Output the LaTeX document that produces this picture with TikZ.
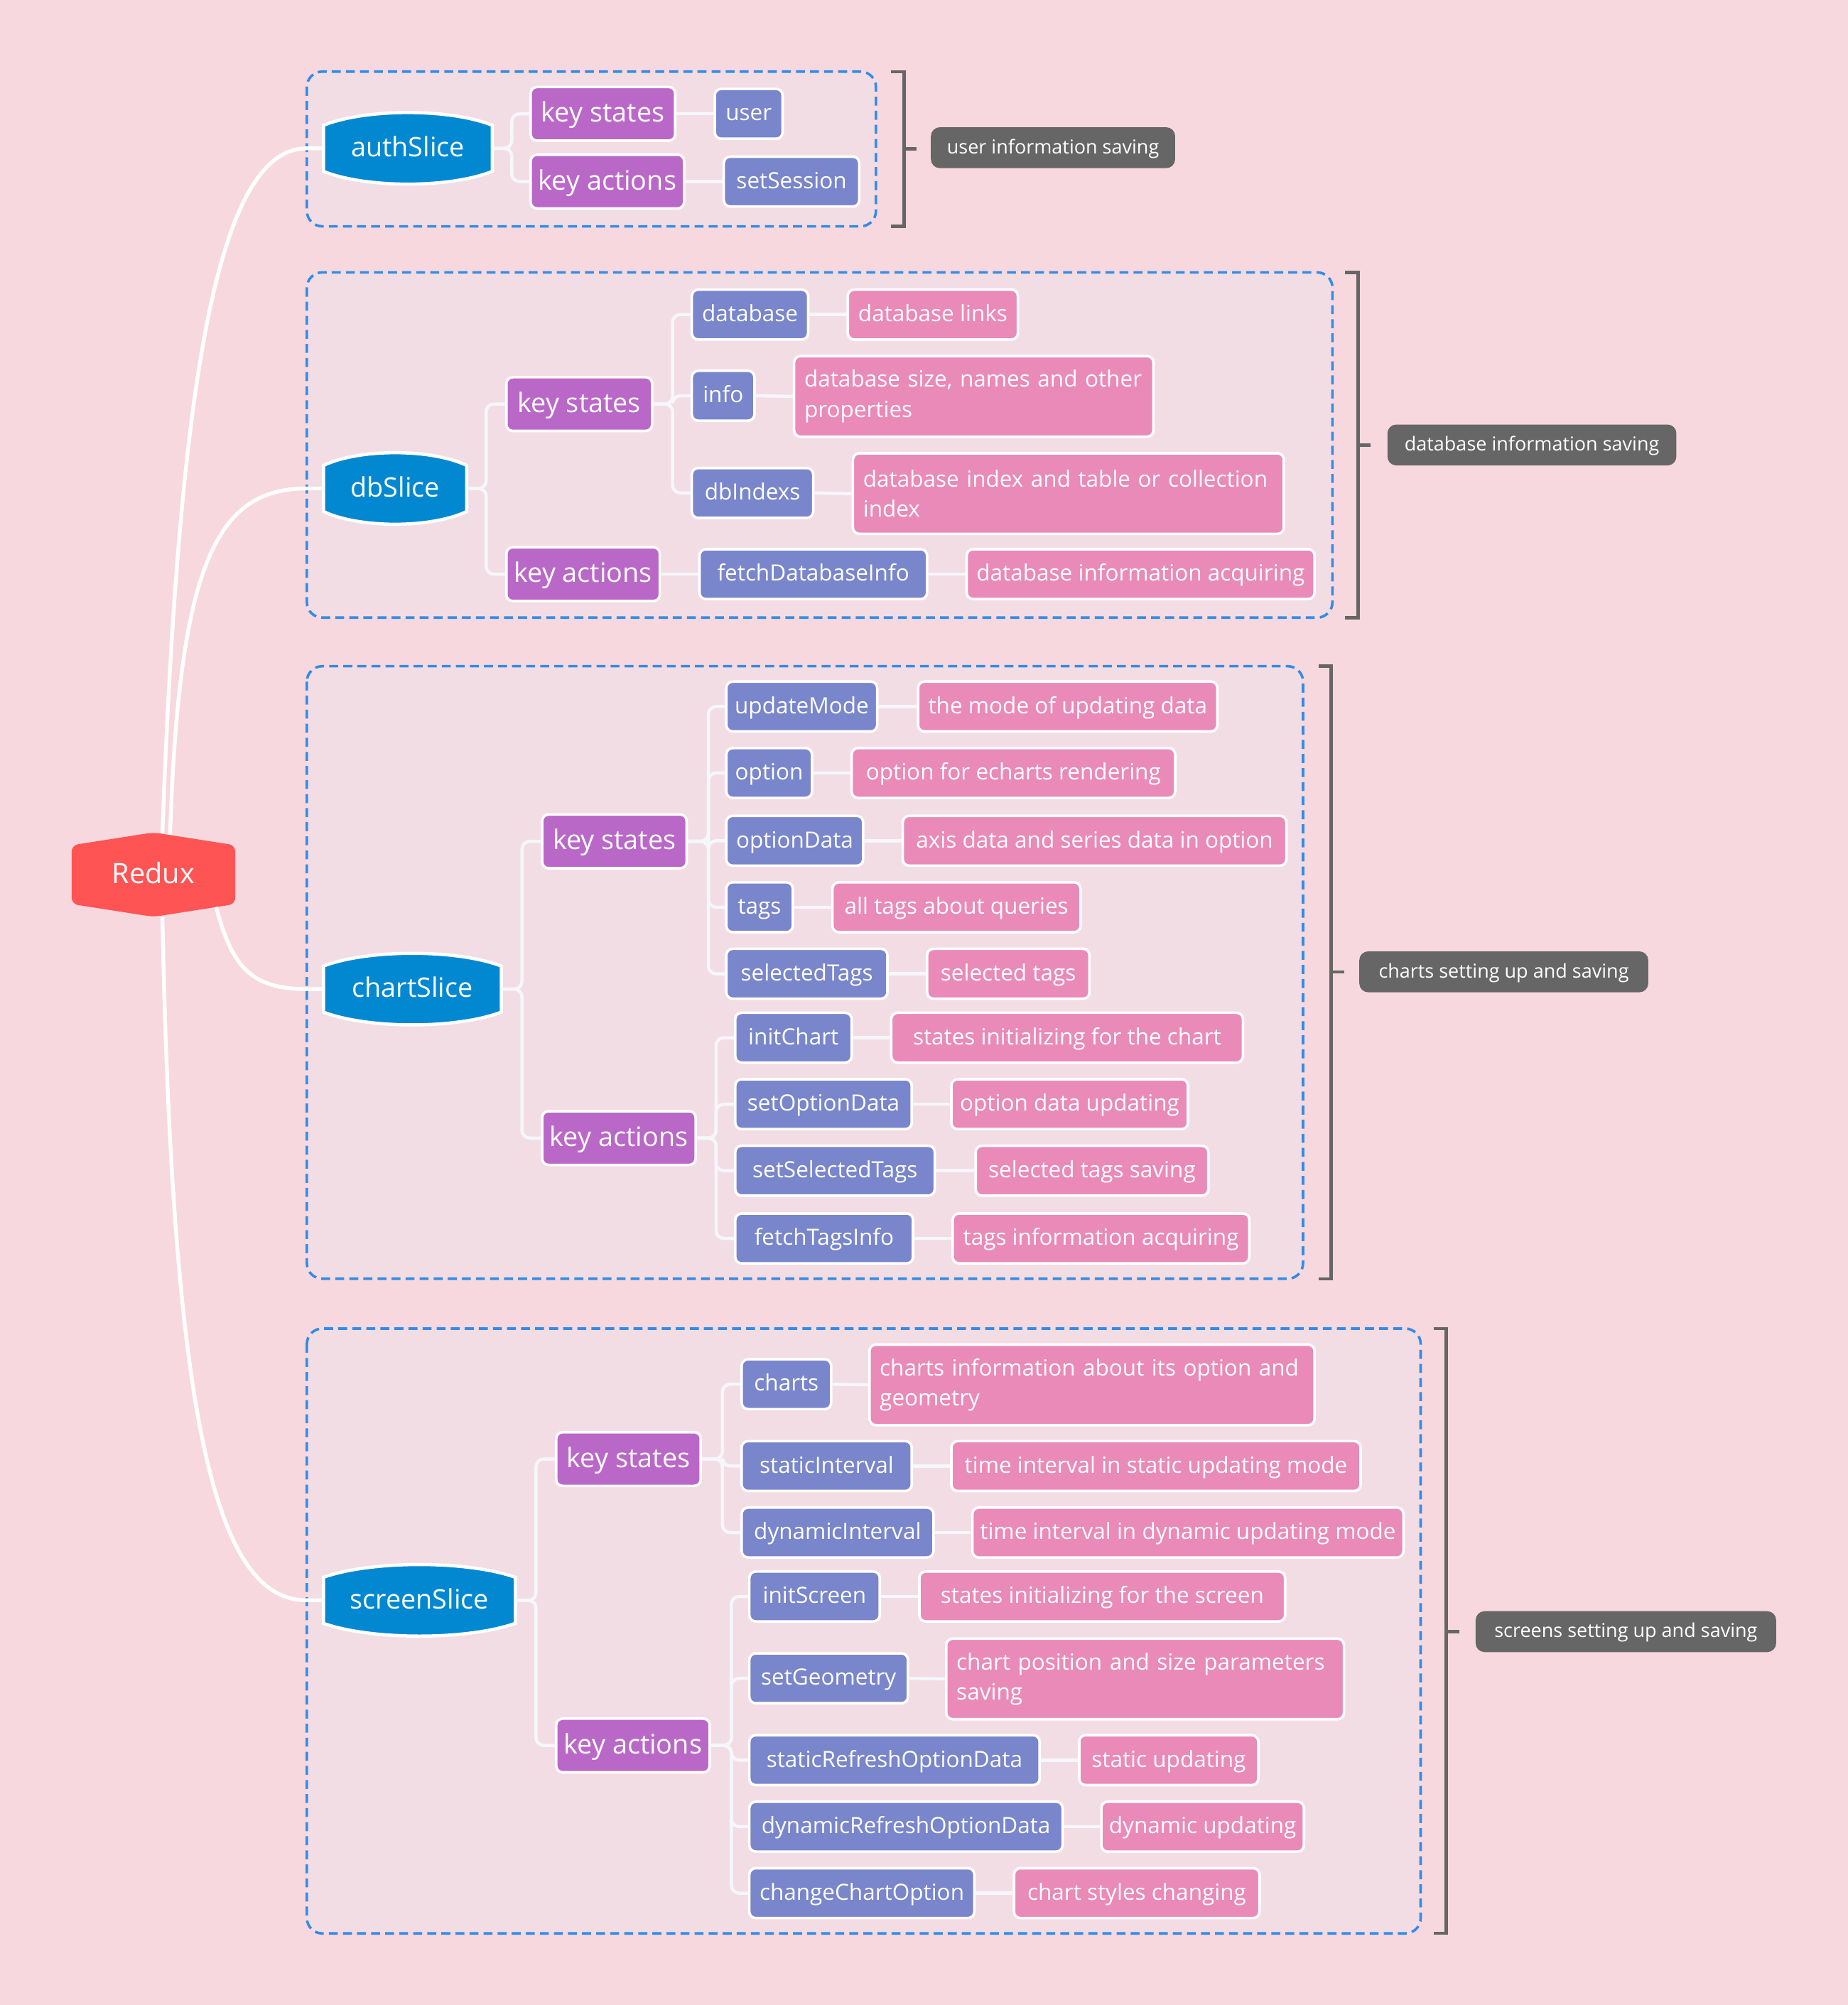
\documentclass[tikz,border=0pt]{standalone}
\usepackage{fontspec}
\setmainfont{Open Sans}
\usetikzlibrary{calc}
\definecolor{bgc}{RGB}{248,216,223}
\definecolor{groupc}{RGB}{243,221,228}
\definecolor{dashc}{RGB}{52,140,228}
\definecolor{slicec}{RGB}{2,136,209}
\definecolor{keyc}{RGB}{186,104,200}
\definecolor{leafc}{RGB}{121,134,203}
\definecolor{pinkc}{RGB}{233,138,184}
\definecolor{reduxc}{RGB}{255,84,84}
\definecolor{grayc}{RGB}{102,102,102}
\definecolor{connc}{RGB}{245,247,250}
\newcommand\slicebg[3]{%
  \path[fill=slicec, draw=white, line width=2.5pt]
    ({#1-#3/2},{#2-18}) .. controls ({#1-#3/4},{#2-31.3}) and ({#1+#3/4},{#2-31.3}) .. ({#1+#3/2},{#2-18})
    -- ({#1+#3/2},{#2+18}) .. controls ({#1+#3/4},{#2+31.3}) and ({#1-#3/4},{#2+31.3}) .. ({#1-#3/2},{#2+18}) -- cycle;}
\tikzset{
  base/.style={draw=white, line width=2pt, rounded corners=5pt, text=white, inner xsep=6pt, inner ysep=0pt, align=center},
  bigline/.style={text height=16.5pt, text depth=3.5pt},
  smallline/.style={text height=13.8pt, text depth=3pt},
  keybox/.style={base, bigline, fill=keyc, minimum height=42pt, font=\fontsize{21}{24}\selectfont},
  leafbox/.style={base, smallline, fill=leafc, minimum height=39pt, font=\fontsize{17.5}{21}\selectfont},
  pinkbase/.style={base, fill=pinkc, minimum height=39pt, font=\fontsize{17.5}{23.5}\selectfont},
  pinkbox/.style={pinkbase, smallline},
  pinktwo/.style={pinkbase, minimum height=63pt, align=left, inner xsep=8pt},
  slicenode/.style={inner sep=0pt, text=white, minimum height=55pt, bigline, font=\fontsize{21}{24}\selectfont},
  labelbox/.style={fill=grayc, rounded corners=7pt, text=white, minimum height=32pt, inner sep=0pt, text height=11.8pt, text depth=2.6pt, font=\fontsize{15}{18}\selectfont},
  groupbox/.style={fill=groupc, draw=dashc, line width=2pt, dash pattern=on 7pt off 4pt, rounded corners=12pt},
  brk/.style={draw=grayc, line width=2.5pt},
  conn/.style={draw=connc, line width=2.5pt, rounded corners=6pt},
  trunk/.style={draw=white, line width=3pt},
}
\begin{document}
\begin{tikzpicture}[x=1pt,y=-1pt]
\fill[bgc] (0,0) rectangle (1445,1568);
\useasboundingbox (0,0) rectangle (1445,1568);

% group boundaries
\path[groupbox] (240,56) rectangle (685,177);
\path[groupbox] (240,213) rectangle (1042,483);
\path[groupbox] (240,521) rectangle (1019,1000);
\path[groupbox] (240,1039) rectangle (1111,1512);

% summary brackets
\draw[brk] (697,56) -- (707,56) -- (707,177) -- (697,177);
\draw[brk] (707,116.5) -- (717,116.5);
\draw[brk] (1052,213) -- (1062,213) -- (1062,483) -- (1052,483);
\draw[brk] (1062,348) -- (1072,348);
\draw[brk] (1031,521) -- (1041,521) -- (1041,1000) -- (1031,1000);
\draw[brk] (1041,760) -- (1051,760);
\draw[brk] (1121,1039) -- (1131,1039) -- (1131,1512) -- (1121,1512);
\draw[brk] (1131,1276) -- (1141,1276);

\node[labelbox, minimum width=191pt] (lab1) at (823.5,115.5) {user information saving};
\node[labelbox, minimum width=226pt] (lab2) at (1198,348) {database information saving};
\node[labelbox, minimum width=226pt] (lab3) at (1176,760) {charts setting up and saving};
\node[labelbox, minimum width=235pt] (lab4) at (1271.5,1276) {screens setting up and saving};

% root
\path[fill=reduxc, rounded corners=5pt] (120,651) -- (184,661) -- (184,707) -- (120,717) -- (56,707) -- (56,661) -- cycle;
\node[slicenode, minimum width=128pt, minimum height=66pt, text height=17pt, text depth=3pt, font=\fontsize{22}{26}\selectfont] (redux) at (120,684) {Redux};

% slices
\slicebg{319}{116}{132}
\node[slicenode, minimum width=132pt] (auth) at (319,116) {authSlice};
\slicebg{309}{382}{112}
\node[slicenode, minimum width=112pt] (db) at (309,382) {dbSlice};
\slicebg{322.5}{773.5}{139}
\node[slicenode, minimum width=139pt] (chart) at (322.5,773.5) {chartSlice};
\slicebg{328}{1251.5}{150}
\node[slicenode, minimum width=150pt] (screen) at (328,1251.5) {screenSlice};

% ---- auth group
\node[keybox, minimum width=113pt] (ks1) at (471.5,89) {key states};
\node[keybox, minimum width=120pt] (ka1) at (475,142) {key actions};
\node[leafbox, minimum width=53pt] (user) at (585.5,89) {user};
\node[leafbox, minimum width=106pt] (setsession) at (619,142) {setSession};

% ---- db group
\node[keybox, minimum width=114pt] (ks2) at (453,316) {key states};
\node[keybox, minimum width=120pt] (ka2) at (456,449) {key actions};
\node[leafbox, minimum width=91pt] (database) at (586.5,246) {database};
\node[leafbox, minimum width=49pt] (info) at (565.5,309.5) {info};
\node[leafbox, minimum width=95pt] (dbindexs) at (588.5,385.5) {dbIndexs};
\node[leafbox, minimum width=178pt] (fetchdb) at (636,449) {fetchDatabaseInfo};
\node[pinkbox, minimum width=133pt] (p-dblinks) at (729.5,246) {database links};
\node[pinktwo, text width=265pt] (p-dbsize) at (761.5,310) {database size, names and other\\properties};
\node[pinktwo, text width=321pt] (p-dbindex) at (835.5,386) {database index and table or collection\\index};
\node[pinkbox, minimum width=272pt] (p-dbinfo) at (892,449) {database information acquiring};

% ---- chart group
\node[keybox, minimum width=113pt] (ks3) at (480.5,658) {key states};
\node[keybox, minimum width=120pt] (ka3) at (484,890) {key actions};
\node[leafbox, minimum width=118pt] (updatemode) at (627,552.5) {updateMode};
\node[leafbox, minimum width=67pt] (option) at (601.5,604.5) {option};
\node[leafbox, minimum width=107pt] (optiondata) at (621.5,657.5) {optionData};
\node[leafbox, minimum width=52pt] (tags) at (594,709.5) {tags};
\node[leafbox, minimum width=126pt] (selectedtags) at (631,761.5) {selectedTags};
\node[leafbox, minimum width=91pt] (initchart) at (620.5,811.5) {initChart};
\node[leafbox, minimum width=138pt] (setoptiondata) at (644,863.5) {setOptionData};
\node[leafbox, minimum width=156pt] (setselectedtags) at (653,915.5) {setSelectedTags};
\node[leafbox, minimum width=139pt] (fetchtags) at (644.5,968.5) {fetchTagsInfo};
\node[pinkbox, minimum width=234pt] (p-updatemode) at (835,552.5) {the mode of updating data};
\node[pinkbox, minimum width=253pt] (p-option) at (792.5,604.5) {option for echarts rendering};
\node[pinkbox, minimum width=300pt] (p-optiondata) at (856,657.5) {axis data and series data in option};
\node[pinkbox, minimum width=194pt] (p-tags) at (748,709.5) {all tags about queries};
\node[pinkbox, minimum width=127pt] (p-selectedtags) at (788.5,761.5) {selected tags};
\node[pinkbox, minimum width=275pt] (p-initchart) at (834.5,811.5) {states initializing for the chart};
\node[pinkbox, minimum width=185pt] (p-setoptiondata) at (836.5,863.5) {option data updating};
\node[pinkbox, minimum width=182pt] (p-setselectedtags) at (854,915.5) {selected tags saving};
\node[pinkbox, minimum width=232pt] (p-fetchtags) at (861,968.5) {tags information acquiring};

% ---- screen group
\node[keybox, minimum width=113pt] (ks4) at (491.5,1141) {key states};
\node[keybox, minimum width=120pt] (ka4) at (495,1365) {key actions};
\node[leafbox, minimum width=70pt] (charts) at (615,1082.5) {charts};
\node[leafbox, minimum width=133pt] (staticinterval) at (646.5,1146.5) {staticInterval};
\node[leafbox, minimum width=150pt] (dynamicinterval) at (655,1198.5) {dynamicInterval};
\node[leafbox, minimum width=102pt] (initscreen) at (637,1248.5) {initScreen};
\node[leafbox, minimum width=124pt] (setgeometry) at (648,1312.5) {setGeometry};
\node[leafbox, minimum width=227pt] (staticrefresh) at (699.5,1376.5) {staticRefreshOptionData};
\node[leafbox, minimum width=245pt] (dynamicrefresh) at (708.5,1428.5) {dynamicRefreshOptionData};
\node[leafbox, minimum width=176pt] (changechart) at (674,1480.5) {changeChartOption};
\node[pinktwo, text width=332pt] (p-charts) at (854,1083) {charts information about its option and\\geometry};
\node[pinkbox, minimum width=320pt] (p-staticinterval) at (904,1146.5) {time interval in static updating mode};
\node[pinkbox, minimum width=336pt] (p-dynamicinterval) at (929,1198.5) {time interval in dynamic updating mode};
\node[pinkbox, minimum width=286pt] (p-initscreen) at (862,1248.5) {states initializing for the screen};
\node[pinktwo, text width=295pt] (p-setgeometry) at (895.5,1313) {chart position and size parameters\\saving};
\node[pinkbox, minimum width=140pt] (p-staticrefresh) at (914,1376.5) {static updating};
\node[pinkbox, minimum width=157pt] (p-dynamicrefresh) at (940.5,1428.5) {dynamic updating};
\node[pinkbox, minimum width=192pt] (p-changechart) at (889,1480.5) {chart styles changing};

% ---- root curves
\draw[trunk] ([xshift=7pt,yshift=-1pt]redux.north) .. controls +(13,-352) and +(-70,0) .. ([xshift=-13pt]auth.west) -- (auth.west);
\draw[trunk] ([xshift=13pt,yshift=-2pt]redux.north) .. controls +(7,-213) and +(-70,0) .. ([xshift=-13pt]db.west) -- (db.west);
\draw[trunk] ([xshift=49pt,yshift=8pt]redux.south) .. controls +(12,45) and +(-45,0) .. ([xshift=-13pt]chart.west) -- (chart.west);
\draw[trunk] ([xshift=7pt]redux.south) .. controls +(8,400) and +(-70,0) .. ([xshift=-13pt]screen.west) -- (screen.west);

% ---- auth connectors
\foreach \k in {ks1,ka1} \draw[conn] (auth.east) -- ++(15,0) |- (\k.west);
\draw[conn] (ks1.east) -- (user.west);
\draw[conn] (ka1.east) -- (setsession.west);

% ---- db connectors
\foreach \k in {ks2,ka2} \draw[conn] (db.east) -- ++(15,0) |- (\k.west);
\foreach \k in {database,info,dbindexs} \draw[conn] (ks2.east) -- ++(15,0) |- (\k.west);
\draw[conn] (ka2.east) -- (fetchdb.west);
\draw[conn] (database.east) -- (p-dblinks.west);
\draw[conn] (info.east) -- (p-dbsize.west);
\draw[conn] (dbindexs.east) -- (p-dbindex.west);
\draw[conn] (fetchdb.east) -- (p-dbinfo.west);

% ---- chart connectors
\foreach \k in {ks3,ka3} \draw[conn] (chart.east) -- ++(16,0) |- (\k.west);
\foreach \k in {updatemode,option,optiondata,tags,selectedtags} \draw[conn] (ks3.east) -- ++(16,0) |- (\k.west);
\foreach \k in {initchart,setoptiondata,setselectedtags,fetchtags} \draw[conn] (ka3.east) -- ++(15,0) |- (\k.west);
\foreach \k in {updatemode,option,optiondata,tags,selectedtags,initchart,setoptiondata,setselectedtags,fetchtags} \draw[conn] (\k.east) -- (p-\k.west);

% ---- screen connectors
\foreach \k in {ks4,ka4} \draw[conn] (screen.east) -- ++(16,0) |- (\k.west);
\foreach \k in {charts,staticinterval,dynamicinterval} \draw[conn] (ks4.east) -- ++(16,0) |- (\k.west);
\foreach \k in {initscreen,setgeometry,staticrefresh,dynamicrefresh,changechart} \draw[conn] (ka4.east) -- ++(16,0) |- (\k.west);
\foreach \k in {charts,staticinterval,dynamicinterval,initscreen,setgeometry,staticrefresh,dynamicrefresh,changechart} \draw[conn] (\k.east) -- (p-\k.west);
\end{tikzpicture}
\end{document}
